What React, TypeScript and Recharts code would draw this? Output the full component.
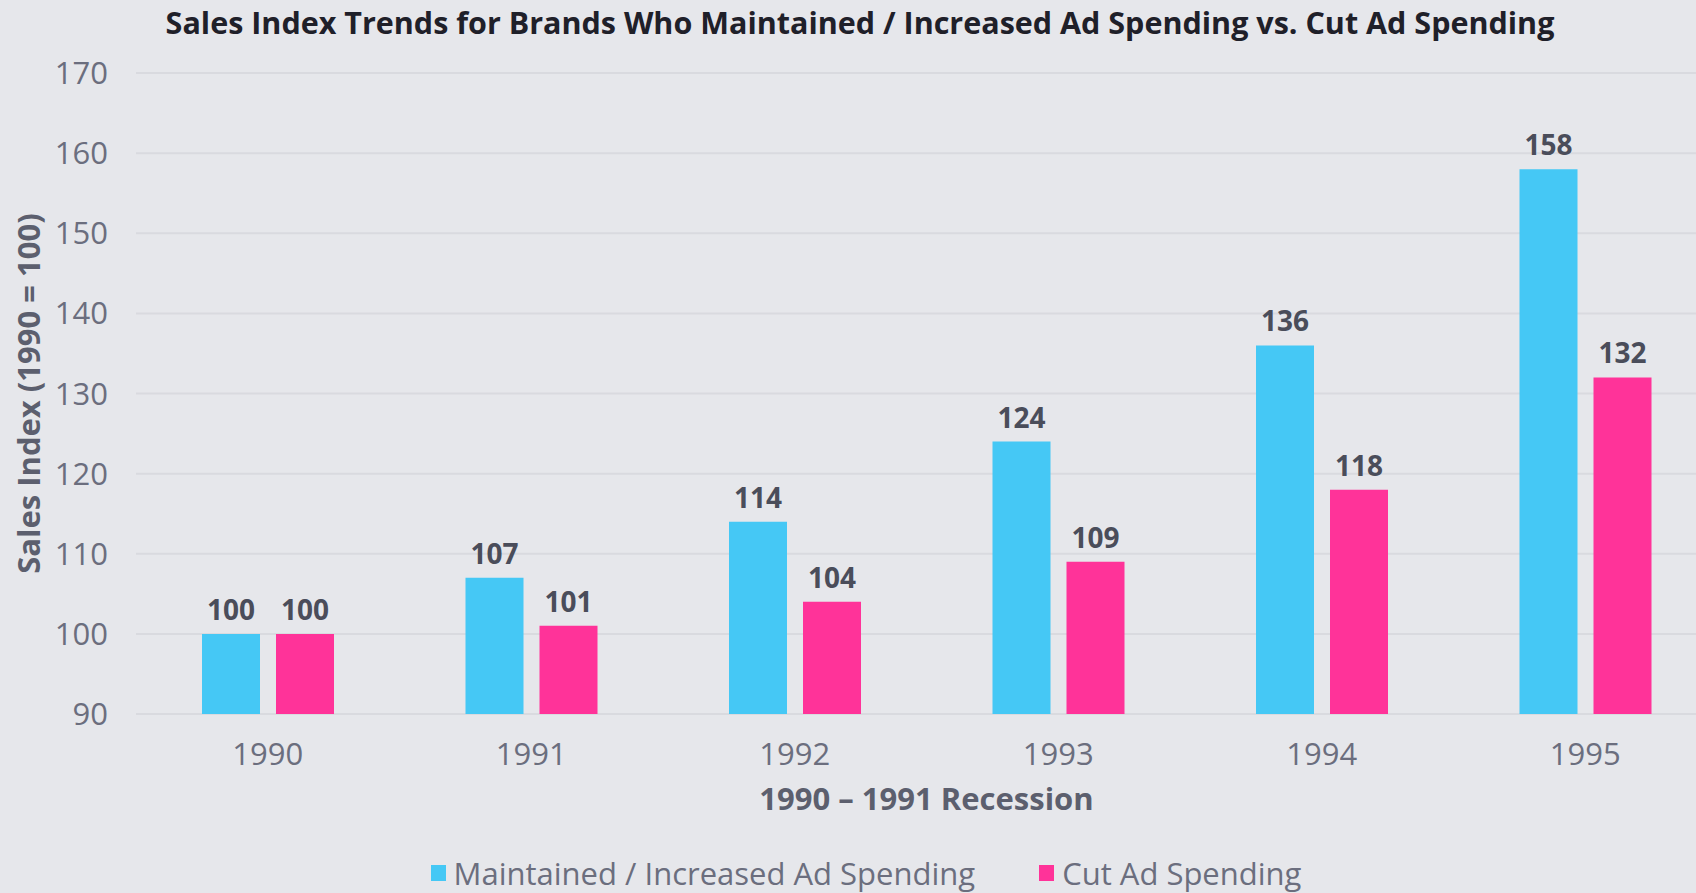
import { BarChart, Bar, XAxis, YAxis, CartesianGrid, LabelList, Legend, Label } from "recharts";

const years = ["1990", "1991", "1992", "1993", "1994", "1995"];
const maintained = [100, 107, 114, 124, 136, 158];
const cutSpend = [100, 101, 104, 109, 118, 132];
const yTicks = [90, 100, 110, 120, 130, 140, 150, 160, 170];

const seriesNames = ["Maintained / Increased Ad Spending", "Cut Ad Spending"];
const seriesColors = ["#45c8f5", "#ff3399"];

const data = years.map((year, i) => ({ year, maintained: maintained[i], cut: cutSpend[i] }));

const FONT = '"Open Sans", sans-serif';
const BG = "#e6e7eb";
const TICK = "#6b6e7e";
const AXIS_TITLE = "#5c5f6e";

// legend built from the series arrays so the order stays fixed
function renderLegend() {
  return (
    <div
      style={{
        height: 40,
        display: "flex",
        justifyContent: "center",
        alignItems: "center",
        paddingLeft: 15,
        fontFamily: FONT,
      }}
    >
      {seriesNames.map((name, i) => (
        <div key={name} style={{ display: "flex", alignItems: "center", marginRight: i === 0 ? 64 : 0 }}>
          <span style={{ width: 15, height: 16, background: seriesColors[i], marginRight: 8, display: "inline-block" }} />
          <span style={{ fontSize: 31, color: TICK }}>{name}</span>
        </div>
      ))}
    </div>
  );
}

export default function App() {
  return (
    <div style={{ position: "fixed", left: 0, top: 0, width: 1696, height: 893, overflow: "hidden", background: BG }}>
      <div
        style={{
          position: "absolute",
          left: 0,
          top: 0,
          width: 1720,
          lineHeight: "44px",
          textAlign: "center",
          fontFamily: FONT,
          fontWeight: 700,
          fontSize: 30.5,
          color: "#1f2029",
          whiteSpace: "nowrap",
        }}
      >
        Sales Index Trends for Brands Who Maintained / Increased Ad Spending vs. Cut Ad Spending
      </div>
      <BarChart
        width={1720}
        height={893}
        data={data}
        margin={{ top: 73, right: 3, bottom: 0, left: 0 }}
        barGap={16}
        barSize={58}
        style={{ position: "absolute", left: 0, top: 0 }}
      >
        <CartesianGrid vertical={false} stroke="#d9dadf" strokeWidth={2} />
        <XAxis
          dataKey="year"
          height={139}
          tickLine={false}
          axisLine={false}
          tickMargin={23}
          tick={{ fill: TICK, fontSize: 31, fontFamily: FONT }}
        >
          <Label
            content={(p: any) => {
              const vb = p.viewBox;
              return (
                <text
                  x={vb.x + vb.width / 2}
                  y={vb.y + 84}
                  textAnchor="middle"
                  dominantBaseline="central"
                  fill={AXIS_TITLE}
                  fontSize={31}
                  fontWeight={700}
                  fontFamily={FONT}
                >
                  1990 – 1991 Recession
                </text>
              );
            }}
          />
        </XAxis>
        <YAxis
          width={136}
          domain={[90, 170]}
          ticks={yTicks}
          tickLine={false}
          axisLine={false}
          tickMargin={22}
          tick={{ fill: TICK, fontSize: 31, fontFamily: FONT }}
        >
          <Label
            content={(p: any) => {
              const vb = p.viewBox;
              const cx = vb.x + 28;
              const cy = vb.y + vb.height / 2;
              return (
                <text
                  x={cx}
                  y={cy}
                  transform={`rotate(-90 ${cx} ${cy})`}
                  textAnchor="middle"
                  dominantBaseline="central"
                  fill={AXIS_TITLE}
                  fontSize={31}
                  fontWeight={700}
                  fontFamily={FONT}
                >
                  Sales Index (1990 = 100)
                </text>
              );
            }}
          />
        </YAxis>
        <Legend verticalAlign="bottom" content={renderLegend} />
        <Bar dataKey="maintained" name={seriesNames[0]} fill={seriesColors[0]} isAnimationActive={false}>
          <LabelList dataKey="maintained" position="top" offset={14} fill="#4a4d5a" fontSize={28} fontWeight={700} fontFamily={FONT} />
        </Bar>
        <Bar dataKey="cut" name={seriesNames[1]} fill={seriesColors[1]} isAnimationActive={false}>
          <LabelList dataKey="cut" position="top" offset={14} fill="#4a4d5a" fontSize={28} fontWeight={700} fontFamily={FONT} />
        </Bar>
      </BarChart>
    </div>
  );
}
